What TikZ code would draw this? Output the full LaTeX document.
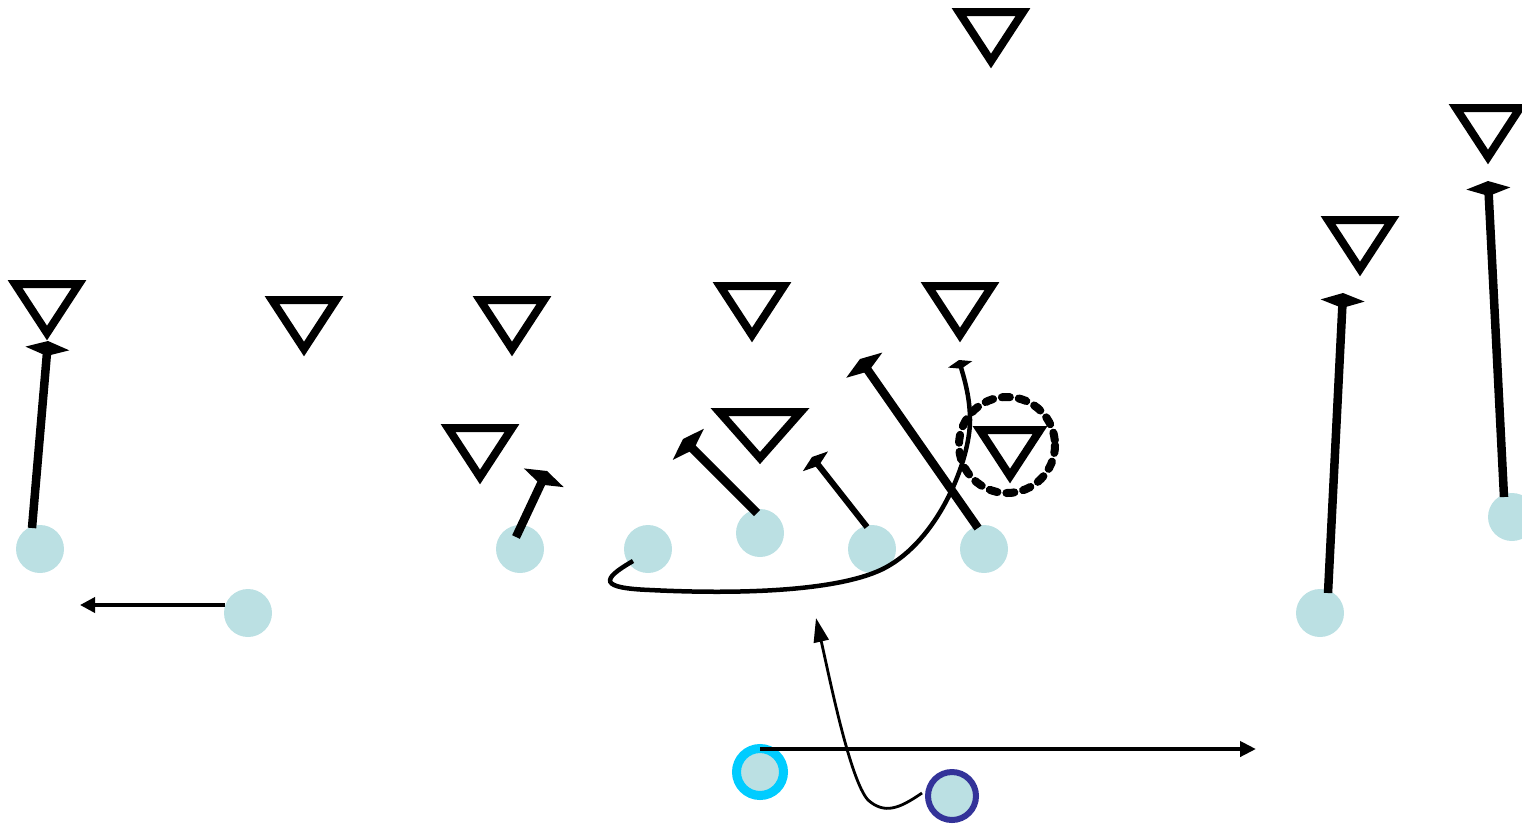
\documentclass[tikz,border=0pt]{standalone}
\usetikzlibrary{arrows.meta}
\definecolor{plblue}{RGB}{187,224,227}
\definecolor{ringcyan}{RGB}{0,204,255}
\definecolor{ringnavy}{RGB}{51,51,153}
\tikzset{
  player/.style={circle, fill=plblue, minimum size=48pt, inner sep=0pt},
  defense/.style={line width=8pt, line join=miter, draw=black},
  defender/.pic={\draw[defense] (-32,0) -- (32,0) -- (0,49) -- cycle;},
  route/.style={line width=8.5pt, -{Kite[length=15pt,width=44pt,inset=7.5pt]}},
  thinroute/.style={line width=3.5pt, -{Triangle[length=15pt,width=15pt]}},
}
\begin{document}
\begin{tikzpicture}[x=1pt,y=-1pt]
\useasboundingbox (0,0) rectangle (1522,823);
% defenders
\pic (d1) at (991,12) {defender};
\pic (d2) at (1488,108) {defender};
\pic (d3) at (1360,220) {defender};
\pic (d4) at (47,284) {defender};
\pic (d5) at (304,300) {defender};
\pic (d6) at (512,300) {defender};
\pic (d7) at (752,286) {defender};
\pic (d8) at (960,286) {defender};
\pic (d9) at (480,428) {defender};
\pic[xscale=1.27,yscale=0.94] (d10) at (760,412) {defender};
\pic[xscale=0.94,yscale=0.94] (d11) at (1010,430) {defender};
% offense
\node[player] (o1) at (40,549) {};
\node[player] (o2) at (248,613) {};
\node[player] (o3) at (520,549) {};
\node[player] (o4) at (648,549) {};
\node[player] (o5) at (760,533) {};
\node[player] (o6) at (872,549) {};
\node[player] (o7) at (984,549) {};
\node[player] (o8) at (1320,613) {};
\node[player] (o9) at (1512,517) {};
\node[circle, fill=plblue, draw=ringcyan, line width=9pt, minimum size=47pt, inner sep=0pt] (qb) at (760,772) {};
\node[circle, fill=plblue, draw=ringnavy, line width=6pt, minimum size=48pt, inner sep=0pt] (rb) at (952,796) {};
% route end coordinates
\coordinate (e1) at (48,341);
\coordinate (e2) at (80,605);
\coordinate (e3) at (547,471);
\coordinate (e4) at (683,439);
\coordinate (e5) at (812,457);
\coordinate (e6) at (860,359);
\coordinate (e7) at (1343,293);
\coordinate (e8) at (1488,181);
\coordinate (e9) at (959,360);
\coordinate (e10) at (816,618);
\coordinate (e11) at (1256,749);
% routes
\draw[route] (32,528) -- (e1);
\draw[thinroute] (225,605) -- (e2);
\draw[route] (516,537) -- (e3);
\draw[route] (757,513) -- (e4);
\draw[line width=6pt, -{Kite[length=11pt,width=32pt,inset=5.5pt]}] (867,527) -- (e5);
\draw[route] (978,528) -- (e6);
\draw[route] (1328,593) -- (e7);
\draw[route] (1504,497) -- (e8);
% dashed circle around defender
\draw[line width=8pt, dash pattern=on 8pt off 9pt, line cap=round] (1007,445) circle[radius=48];
% curved route
\draw[line width=4.5pt, -{Kite[length=9pt,width=25pt,inset=4.5pt]}] (633,561)
  .. controls (600,580) and (600,588) .. (650,590)
  .. controls (750,595) and (850,590) .. (890,565)
  .. controls (940,535) and (970,460) .. (970,420)
  .. controls (970,395) and (963,375) .. (e9);
% back's route
\draw[line width=2.8pt, -{Triangle[length=24pt,width=15pt]}] (922,793)
  .. controls (900,808) and (885,815) .. (868,800)
  .. controls (850,780) and (830,680) .. (e10);
% QB line
\draw[line width=4pt, -{Triangle[length=16pt,width=15pt]}] (760,749) -- (e11);
\end{tikzpicture}
\end{document}
